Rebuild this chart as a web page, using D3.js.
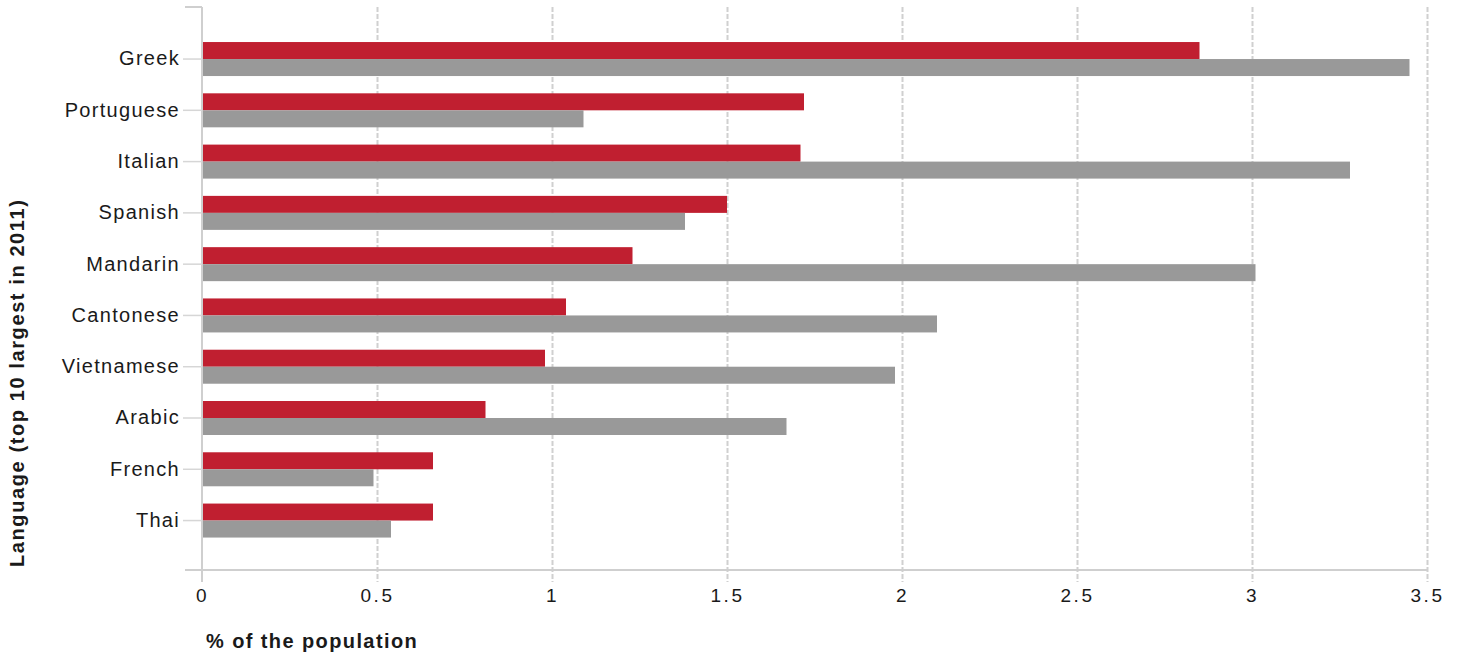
<!DOCTYPE html>
<html>
<head>
<meta charset="utf-8">
<script src="https://cdnjs.cloudflare.com/ajax/libs/d3/7.8.5/d3.min.js"></script>
<style>
  html, body { margin: 0; padding: 0; background: #ffffff; }
  svg { display: block; }
  text { font-family: "Liberation Sans", Arial, sans-serif; fill: #1a1a1a; }
</style>
</head>
<body>
<svg id="chart" width="1460" height="661"></svg>
<script>
const categories = ["Greek", "Portuguese", "Italian", "Spanish", "Mandarin", "Cantonese", "Vietnamese", "Arabic", "French", "Thai"];
const series1 = [2.85, 1.72, 1.71, 1.50, 1.23, 1.04, 0.98, 0.81, 0.66, 0.66];
const series2 = [3.45, 1.09, 3.28, 1.38, 3.01, 2.10, 1.98, 1.67, 0.49, 0.54];
const xTicks = [0, 0.5, 1, 1.5, 2, 2.5, 3, 3.5];
const xTickLabels = ["0", "0.5", "1", "1.5", "2", "2.5", "3", "3.5"];
const xTitle = "% of the population";
const yTitle = "Language (top 10 largest in 2011)";
const colors = ["#c01f30", "#999999"];

const svg = d3.select("#chart");
const plotTop = 7, plotBottom = 570, plotLeft = 202, plotRight = 1427;

const x = d3.scaleLinear().domain([0, 3.5]).range([plotLeft, plotRight]);
const y = d3.scaleBand().domain(categories).range([33.4, 546.2]).paddingInner(0.337).paddingOuter(0.1685);
const sub = d3.scaleBand().domain([0, 1]).range([0, y.bandwidth()]);

// gridlines (dashed) with ticks extending below axis
svg.append("g").selectAll("line").data(xTicks.filter(d => d > 0)).join("line")
  .attr("x1", d => Math.round(x(d)) + 0.5).attr("x2", d => Math.round(x(d)) + 0.5)
  .attr("y1", plotTop).attr("y2", plotBottom + 12)
  .attr("stroke", "#d0d0d0").attr("stroke-width", 2).attr("stroke-dasharray", "5,2");

// bars
const groups = svg.append("g").selectAll("g").data(categories).join("g")
  .attr("transform", d => `translate(0,${y(d)})`);
groups.append("rect")
  .attr("x", x(0)).attr("y", sub(0))
  .attr("width", (d, i) => x(series1[i]) - x(0)).attr("height", sub.bandwidth())
  .attr("fill", colors[0]);
groups.append("rect")
  .attr("x", x(0)).attr("y", sub(1))
  .attr("width", (d, i) => x(series2[i]) - x(0)).attr("height", sub.bandwidth())
  .attr("fill", colors[1]);

// axes lines
const axisColor = "#cfcfcf";
svg.append("line").attr("x1", plotLeft).attr("x2", plotLeft).attr("y1", plotTop).attr("y2", plotBottom + 12)
  .attr("stroke", axisColor).attr("stroke-width", 2);
svg.append("line").attr("x1", 185).attr("x2", plotLeft).attr("y1", plotTop).attr("y2", plotTop)
  .attr("stroke", axisColor).attr("stroke-width", 2);
svg.append("line").attr("x1", 185).attr("x2", plotRight + 1).attr("y1", plotBottom).attr("y2", plotBottom)
  .attr("stroke", axisColor).attr("stroke-width", 2);

// category ticks and labels
const yAxis = d3.axisLeft(y).tickSize(19).tickPadding(3);
const gy = svg.append("g").attr("transform", `translate(${plotLeft},0)`).call(yAxis);
gy.select(".domain").remove();
gy.selectAll(".tick line").attr("stroke", "#d6d6d6").attr("stroke-width", 1.5);
gy.selectAll(".tick text")
  .attr("font-size", "20px").attr("fill", "#1a1a1a").style("letter-spacing", "1.3px")
  .attr("font-family", "'Liberation Sans', Arial, sans-serif");

// x tick labels
const xAxis = d3.axisBottom(x).tickValues(xTicks).tickFormat((d, i) => xTickLabels[i]).tickSize(0).tickPadding(19);
const gx = svg.append("g").attr("transform", `translate(0,${plotBottom})`).call(xAxis);
gx.select(".domain").remove();
gx.selectAll(".tick text")
  .attr("font-size", "19px").attr("fill", "#1a1a1a").style("letter-spacing", "2.5px")
  .attr("font-family", "'Liberation Sans', Arial, sans-serif");

// titles
svg.append("text").attr("x", 206).attr("y", 648)
  .attr("font-size", "20px").attr("font-weight", "bold").style("letter-spacing", "1.4px")
  .text(xTitle);
svg.append("text").attr("transform", "translate(24,567) rotate(-90)")
  .attr("font-size", "20px").attr("font-weight", "bold").style("letter-spacing", "1.6px")
  .text(yTitle);
</script>
</body>
</html>
